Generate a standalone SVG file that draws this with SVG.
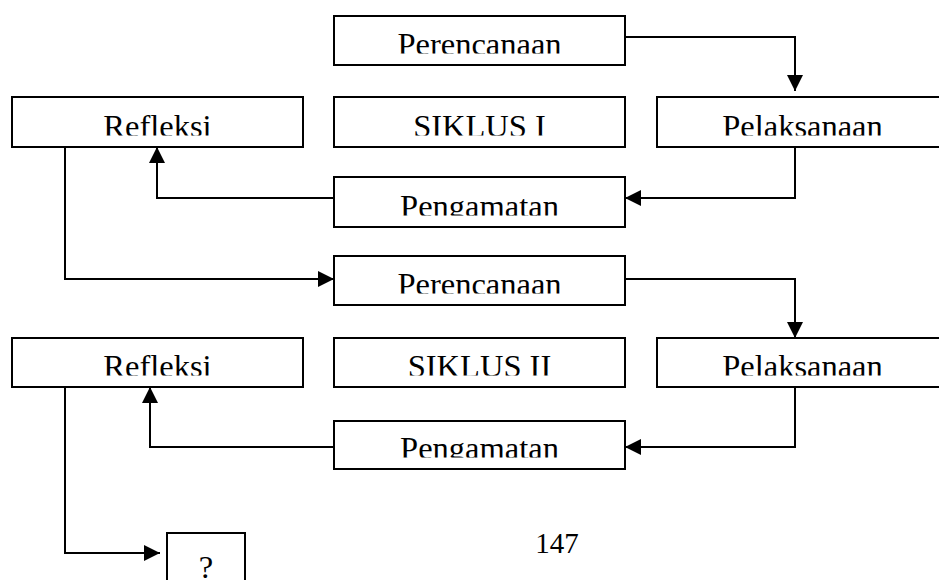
<svg xmlns="http://www.w3.org/2000/svg" width="939" height="580" viewBox="0 0 939 580">
<style>
.box{fill:#fff;stroke:#000;stroke-width:2}
.lbl{font-family:"Liberation Serif","Times New Roman",serif;font-size:32.5px;fill:#000;text-anchor:middle}
.con{fill:none;stroke:#000;stroke-width:2;marker-end:url(#ah)}
</style>
<defs>
<marker id="ah" markerUnits="userSpaceOnUse" markerWidth="16" markerHeight="16" refX="16" refY="8" orient="auto">
<path d="M0,0 L16,8 L0,16 z" fill="#000"/>
</marker>
<clipPath id="cP1"><rect x="334" y="16" width="291" height="37.5"/></clipPath>
<clipPath id="cR1"><rect x="12" y="97" width="291" height="38.5"/></clipPath>
<clipPath id="cS1"><rect x="334" y="97" width="291" height="38.5"/></clipPath>
<clipPath id="cL1"><rect x="657" y="97" width="291" height="38.5"/></clipPath>
<clipPath id="cG1"><rect x="334" y="177" width="291" height="38.5"/></clipPath>
<clipPath id="cP2"><rect x="334" y="256" width="291" height="37.5"/></clipPath>
<clipPath id="cR2"><rect x="12" y="338" width="291" height="37.5"/></clipPath>
<clipPath id="cS2"><rect x="334" y="338" width="291" height="37.5"/></clipPath>
<clipPath id="cL2"><rect x="657" y="338" width="291" height="37.5"/></clipPath>
<clipPath id="cG2"><rect x="334" y="421" width="291" height="36.5"/></clipPath>
</defs>
<rect width="939" height="580" fill="#fff"/>
<g id="connectors">
<path class="con" d="M625,37 H795 V91"/>
<path class="con" d="M795,147 V198 H625"/>
<path class="con" d="M334,198 H157 V147"/>
<path class="con" d="M65,147 V279 H334"/>
<path class="con" d="M625,279 H795 V338"/>
<path class="con" d="M795,387 V447 H625"/>
<path class="con" d="M334,447 H150 V387"/>
<path class="con" d="M65,387 V553 H160"/>
</g>
<g id="perencanaan1"><rect class="box" x="334" y="16" width="291" height="49"/><text class="lbl" x="479.5" y="55" clip-path="url(#cP1)">Perencanaan</text></g>
<g id="refleksi1"><rect class="box" x="12" y="97" width="291" height="50"/><text class="lbl" x="157.5" y="137" clip-path="url(#cR1)">Refleksi</text></g>
<g id="siklus1"><rect class="box" x="334" y="97" width="291" height="50"/><text class="lbl" x="479.5" y="137" clip-path="url(#cS1)">SIKLUS I</text></g>
<g id="pelaksanaan1"><rect class="box" x="657" y="97" width="291" height="50"/><text class="lbl" x="802.5" y="137" clip-path="url(#cL1)">Pelaksanaan</text></g>
<g id="pengamatan1"><rect class="box" x="334" y="177" width="291" height="50"/><text class="lbl" x="479.5" y="217" clip-path="url(#cG1)">Pengamatan</text></g>
<g id="perencanaan2"><rect class="box" x="334" y="256" width="291" height="49"/><text class="lbl" x="479.5" y="295" clip-path="url(#cP2)">Perencanaan</text></g>
<g id="refleksi2"><rect class="box" x="12" y="338" width="291" height="49"/><text class="lbl" x="157.5" y="377" clip-path="url(#cR2)">Refleksi</text></g>
<g id="siklus2"><rect class="box" x="334" y="338" width="291" height="49"/><text class="lbl" x="479.5" y="377" clip-path="url(#cS2)">SIKLUS II</text></g>
<g id="pelaksanaan2"><rect class="box" x="657" y="338" width="291" height="49"/><text class="lbl" x="802.5" y="377" clip-path="url(#cL2)">Pelaksanaan</text></g>
<g id="pengamatan2"><rect class="box" x="334" y="421" width="291" height="48"/><text class="lbl" x="479.5" y="459" clip-path="url(#cG2)">Pengamatan</text></g>
<g id="question"><rect class="box" x="167" y="533" width="78" height="60"/><text class="lbl" x="206" y="578">?</text></g>
<text class="lbl" x="557" y="553" style="font-size:29px">147</text>
</svg>
